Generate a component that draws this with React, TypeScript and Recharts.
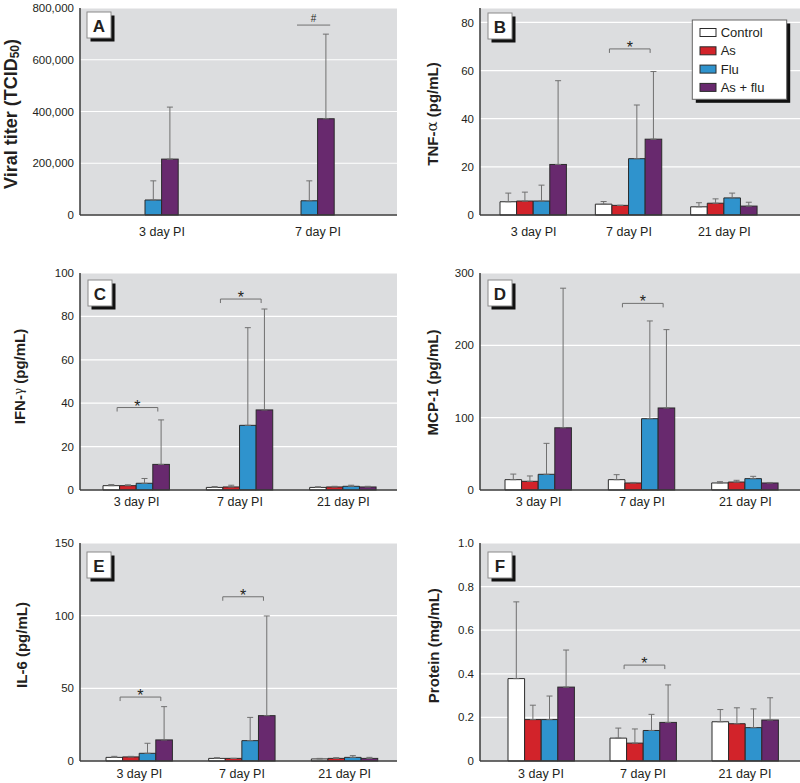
import { BarChart, Bar, XAxis, YAxis, CartesianGrid, ErrorBar } from 'recharts';

const FONT = "'Liberation Sans', Arial, Helvetica, sans-serif";
const INK = '#231f20';
const PANEL_BG = '#dcdddf';
const AXIS = '#3a3a3a';
const WHISKER = '#707070';
const OUTLINE = '#2b2b2b';

const dayLabels = ['3 day PI', '7 day PI', '21 day PI'];
const titerDays = ['3 day PI', '7 day PI'];

// A: viral titer (means and top of error bar)
const titerFlu = [58000, 55000];
const titerFluTop = [132000, 132000];
const titerAsFlu = [216000, 372000];
const titerAsFluTop = [417000, 699000];
const titerMarks = [null, 734000];

// B: TNF-alpha
const tnfControl = [5.5, 4.5, 3.4];
const tnfControlTop = [9.1, 5.6, 5.1];
const tnfAs = [5.8, 4.0, 4.9];
const tnfAsTop = [9.5, 4.0, 6.7];
const tnfFlu = [5.8, 23.4, 7.1];
const tnfFluTop = [12.4, 45.7, 9.1];
const tnfAsFlu = [21, 31.5, 3.7];
const tnfAsFluTop = [55.8, 59.6, 5.3];
const tnfMarks = [null, 69, null];

// C: IFN-gamma
const ifnControl = [2.0, 1.2, 1.2];
const ifnControlTop = [2.5, 1.6, 1.5];
const ifnAs = [2.0, 1.4, 1.4];
const ifnAsTop = [2.4, 2.2, 1.7];
const ifnFlu = [3.1, 29.8, 1.7];
const ifnFluTop = [5.3, 74.8, 2.2];
const ifnAsFlu = [11.8, 36.9, 1.4];
const ifnAsFluTop = [32.3, 83.4, 1.7];
const ifnMarks = [38, 88, null];

// D: MCP-1
const mcpControl = [14.3, 14.3, 9.7];
const mcpControlTop = [22, 21.2, 11.5];
const mcpAs = [12, 9.7, 11];
const mcpAsTop = [19.4, 10.4, 13.4];
const mcpFlu = [21.7, 98.6, 15.7];
const mcpFluTop = [64.5, 233.7, 18.9];
const mcpAsFlu = [86, 113.4, 9.7];
const mcpAsFluTop = [279, 221.7, 10.4];
const mcpMarks = [null, 258, null];

// E: IL-6
const il6Control = [2.5, 1.8, 1.4];
const il6ControlTop = [3.2, 2.3, 1.8];
const il6As = [2.8, 1.8, 1.8];
const il6AsTop = [3.2, 1.8, 2.3];
const il6Flu = [5.3, 14, 2.5];
const il6FluTop = [12.2, 30, 3.7];
const il6AsFlu = [14.5, 31.2, 1.8];
const il6AsFluTop = [37.4, 99.8, 2.5];
const il6Marks = [44, 113, null];

// F: protein
const protControl = [0.378, 0.105, 0.18];
const protControlTop = [0.73, 0.151, 0.236];
const protAs = [0.19, 0.082, 0.171];
const protAsTop = [0.256, 0.147, 0.244];
const protFlu = [0.19, 0.14, 0.153];
const protFluTop = [0.298, 0.214, 0.239];
const protAsFlu = [0.339, 0.177, 0.188];
const protAsFluTop = [0.509, 0.349, 0.29];
const protMarks = [null, 0.44, null];

const GROUPS: Record<string, { name: string; fill: string }> = {
  control: { name: 'Control', fill: '#ffffff' },
  as: { name: 'As', fill: '#d2232a' },
  flu: { name: 'Flu', fill: '#2f93cd' },
  asflu: { name: 'As + flu', fill: '#68296e' },
};

function buildRows(
  days: string[],
  series: [string, number[], number[]][],
  marks: (number | null)[],
  markType: string,
) {
  return days.map((day, i) => {
    const row: any = { day, mark: marks[i], markType };
    series.forEach(([key, mean, top]) => {
      row[key] = mean[i];
      row[key + 'Err'] = [0, Math.max(0, top[i] - mean[i])];
    });
    return row;
  });
}

function AsFluBar(props: any) {
  const { x, y, width, height, fill, payload } = props;
  let deco = null;
  if (payload && payload.mark != null && height > 0) {
    const base = y + height;
    const my = base - (payload.mark * height) / payload.asflu;
    if (payload.markType === 'hash') {
      const l = x - width - 4;
      const r = x + width - 4;
      deco = (
        <g>
          <line x1={l} x2={r} y1={my} y2={my} stroke={WHISKER} strokeWidth={1} />
          <text x={(l + r) / 2} y={my - 3.5} textAnchor="middle" fontSize={10} fill={INK} fontFamily={FONT}>
            #
          </text>
        </g>
      );
    } else {
      const l = x - 2 * width - 2.5;
      const r = x + 5;
      deco = (
        <g>
          <path d={`M${l},${my + 4}V${my}H${r}V${my + 4}`} fill="none" stroke={WHISKER} strokeWidth={1} />
          <text x={(l + r) / 2} y={my + 4} textAnchor="middle" fontSize={16} fill={INK} fontFamily={FONT}>
            *
          </text>
        </g>
      );
    }
  }
  return (
    <g>
      <rect x={x} y={y} width={width} height={height} fill={fill} stroke={OUTLINE} strokeWidth={1} />
      {deco}
    </g>
  );
}

const panels = [
  {
    letter: 'A',
    left: 0, top: 0, height: 260, plotTop: 8, xAxisHeight: 45, right: 3,
    xPad: { left: 4, right: 1 }, xTickMargin: 12,
    domain: [0, 800000], ticks: [0, 200000, 400000, 600000, 800000],
    fmt: (v: number) => v.toLocaleString('en-US'),
    keys: ['flu', 'asflu'],
    rows: buildRows(titerDays, [['flu', titerFlu, titerFluTop], ['asflu', titerAsFlu, titerAsFluTop]], titerMarks, 'hash'),
    letterPos: [87, 12], labelPos: [11, 114],
  },
  {
    letter: 'B',
    left: 400, top: 0, height: 260, plotTop: 8, xAxisHeight: 45, right: 0,
    xPad: { left: 6, right: 28 }, xTickMargin: 12,
    domain: [0, 86], ticks: [0, 20, 40, 60, 80],
    fmt: (v: number) => String(v),
    keys: ['control', 'as', 'flu', 'asflu'],
    rows: buildRows(dayLabels, [['control', tnfControl, tnfControlTop], ['as', tnfAs, tnfAsTop], ['flu', tnfFlu, tnfFluTop], ['asflu', tnfAsFlu, tnfAsFluTop]], tnfMarks, 'star'),
    letterPos: [88, 13], labelPos: [32, 114], legend: true,
  },
  {
    letter: 'C',
    left: 0, top: 260, height: 260, plotTop: 13, xAxisHeight: 30, right: 3,
    xPad: { left: 5, right: 2 }, xTickMargin: 7,
    domain: [0, 100], ticks: [0, 20, 40, 60, 80, 100],
    fmt: (v: number) => String(v),
    keys: ['control', 'as', 'flu', 'asflu'],
    rows: buildRows(dayLabels, [['control', ifnControl, ifnControlTop], ['as', ifnAs, ifnAsTop], ['flu', ifnFlu, ifnFluTop], ['asflu', ifnAsFlu, ifnAsFluTop]], ifnMarks, 'star'),
    letterPos: [88, 20], labelPos: [19, 116.5],
  },
  {
    letter: 'D',
    left: 400, top: 260, height: 260, plotTop: 13, xAxisHeight: 30, right: 0,
    xPad: { left: 7, right: 3 }, xTickMargin: 7,
    domain: [0, 300], ticks: [0, 100, 200, 300],
    fmt: (v: number) => String(v),
    keys: ['control', 'as', 'flu', 'asflu'],
    rows: buildRows(dayLabels, [['control', mcpControl, mcpControlTop], ['as', mcpAs, mcpAsTop], ['flu', mcpFlu, mcpFluTop], ['asflu', mcpAsFlu, mcpAsFluTop]], mcpMarks, 'star'),
    letterPos: [88, 20], labelPos: [32, 122.5],
  },
  {
    letter: 'E',
    left: 0, top: 520, height: 263, plotTop: 23, xAxisHeight: 22, right: 3,
    xPad: { left: 8, right: 1 }, xTickMargin: 8,
    domain: [0, 150], ticks: [0, 50, 100, 150],
    fmt: (v: number) => String(v),
    keys: ['control', 'as', 'flu', 'asflu'],
    rows: buildRows(dayLabels, [['control', il6Control, il6ControlTop], ['as', il6As, il6AsTop], ['flu', il6Flu, il6FluTop], ['asflu', il6AsFlu, il6AsFluTop]], il6Marks, 'star'),
    letterPos: [87, 32], labelPos: [21, 125],
  },
  {
    letter: 'F',
    left: 400, top: 520, height: 263, plotTop: 23, xAxisHeight: 22, right: 0,
    xPad: { left: 10, right: 4 }, xTickMargin: 8,
    domain: [0, 1], ticks: [0, 0.2, 0.4, 0.6, 0.8, 1],
    fmt: (v: number) => (v === 0 ? '0' : v.toFixed(1)),
    keys: ['control', 'as', 'flu', 'asflu'],
    rows: buildRows(dayLabels, [['control', protControl, protControlTop], ['as', protAs, protAsTop], ['flu', protFlu, protFluTop], ['asflu', protAsFlu, protAsFluTop]], protMarks, 'star'),
    letterPos: [88, 32], labelPos: [33, 125.7],
  },
];

function AxisTitle({ letter }: { letter: string }) {
  const greek = { fontFamily: "'DejaVu Serif', serif", fontWeight: 'normal' as const };
  switch (letter) {
    case 'A':
      return (
        <>
          Viral titer (TCID<tspan fontSize={12} dy={4}>50</tspan>
          <tspan dy={-4}>)</tspan>
        </>
      );
    case 'B':
      return (
        <>
          TNF-<tspan {...greek}>α</tspan> (pg/mL)
        </>
      );
    case 'C':
      return (
        <>
          IFN-<tspan {...greek} fontSize={12}>γ</tspan> (pg/mL)
        </>
      );
    case 'D':
      return <>MCP-1 (pg/mL)</>;
    case 'E':
      return <>IL-6 (pg/mL)</>;
    default:
      return <>Protein (mg/mL)</>;
  }
}

function Decor({ p }: { p: any }) {
  const [bx, by] = p.letterPos;
  const [lx, ly] = p.labelPos;
  const legendKeys = ['control', 'as', 'flu', 'asflu'];
  return (
    <svg width={400} height={p.height} style={{ position: 'absolute', left: 0, top: 0, pointerEvents: 'none' }}>
      <text
        transform={`translate(${lx},${ly}) rotate(-90)`}
        textAnchor="middle"
        dominantBaseline="central"
        fontFamily={FONT}
        fontWeight="bold"
        fontSize={p.letter === 'A' ? 18 : 15}
        fill={INK}
      >
        <AxisTitle letter={p.letter} />
      </text>
      <rect x={bx + 3.5} y={by + 3.5} width={24} height={26} fill="#111" />
      <rect x={bx} y={by} width={24} height={26} fill="#fff" stroke="#8a8a8a" strokeWidth={1} />
      <text x={bx + 12} y={by + 19.5} textAnchor="middle" fontFamily={FONT} fontWeight="bold" fontSize={17} fill={INK}>
        {p.letter}
      </text>
      {p.legend && (
        <g>
          <rect x={295.8} y={23.5} width={94.4} height={79.3} fill="#111" />
          <rect x={292.3} y={20} width={94.4} height={79.3} fill="#fff" stroke="#666" strokeWidth={1} />
          {legendKeys.map((k, i) => (
            <g key={k}>
              <rect x={300} y={28.5 + i * 18.3} width={16} height={8} fill={GROUPS[k].fill} stroke={OUTLINE} strokeWidth={1} />
              <text x={320.7} y={32.5 + i * 18.3} dominantBaseline="central" fontFamily={FONT} fontSize={13} fill={INK}>
                {GROUPS[k].name}
              </text>
            </g>
          ))}
        </g>
      )}
    </svg>
  );
}

function Panel({ p }: { p: any }) {
  return (
    <div style={{ position: 'absolute', left: p.left, top: p.top, width: 400, height: p.height }}>
      <BarChart
        width={400}
        height={p.height}
        data={p.rows}
        margin={{ top: p.plotTop, right: p.right, left: 0, bottom: 0 }}
        barGap={0}
        barSize={16.6}
      >
        <CartesianGrid vertical={false} stroke="#ffffff" strokeWidth={1.2} fill={PANEL_BG} fillOpacity={1} />
        <XAxis
          dataKey="day"
          height={p.xAxisHeight}
          padding={p.xPad}
          tickLine={false}
          tickSize={0}
          tickMargin={p.xTickMargin}
          interval={0}
          axisLine={{ stroke: AXIS, strokeWidth: 1.5 }}
          tick={{ fill: INK, fontSize: 12.5, fontFamily: FONT }}
        />
        <YAxis
          width={80}
          domain={p.domain}
          ticks={p.ticks}
          interval={0}
          tickFormatter={p.fmt}
          tickLine={false}
          tickSize={0}
          tickMargin={6}
          axisLine={{ stroke: AXIS, strokeWidth: 1.5 }}
          tick={{ fill: INK, fontSize: 11.5, fontFamily: FONT }}
        />
        {p.keys.map((k: string) => (
          <Bar
            key={k}
            dataKey={k}
            name={GROUPS[k].name}
            fill={GROUPS[k].fill}
            stroke={OUTLINE}
            strokeWidth={1}
            isAnimationActive={false}
            shape={k === 'asflu' ? AsFluBar : undefined}
          >
            <ErrorBar dataKey={k + 'Err'} width={3} stroke={WHISKER} strokeWidth={1} direction="y" />
          </Bar>
        ))}
      </BarChart>
      <Decor p={p} />
    </div>
  );
}

export default function App() {
  return (
    <div style={{ position: 'absolute', left: 0, top: 0, width: 800, height: 783, background: '#fff', fontFamily: FONT }}>
      {panels.map((p) => (
        <Panel key={p.letter} p={p} />
      ))}
    </div>
  );
}
